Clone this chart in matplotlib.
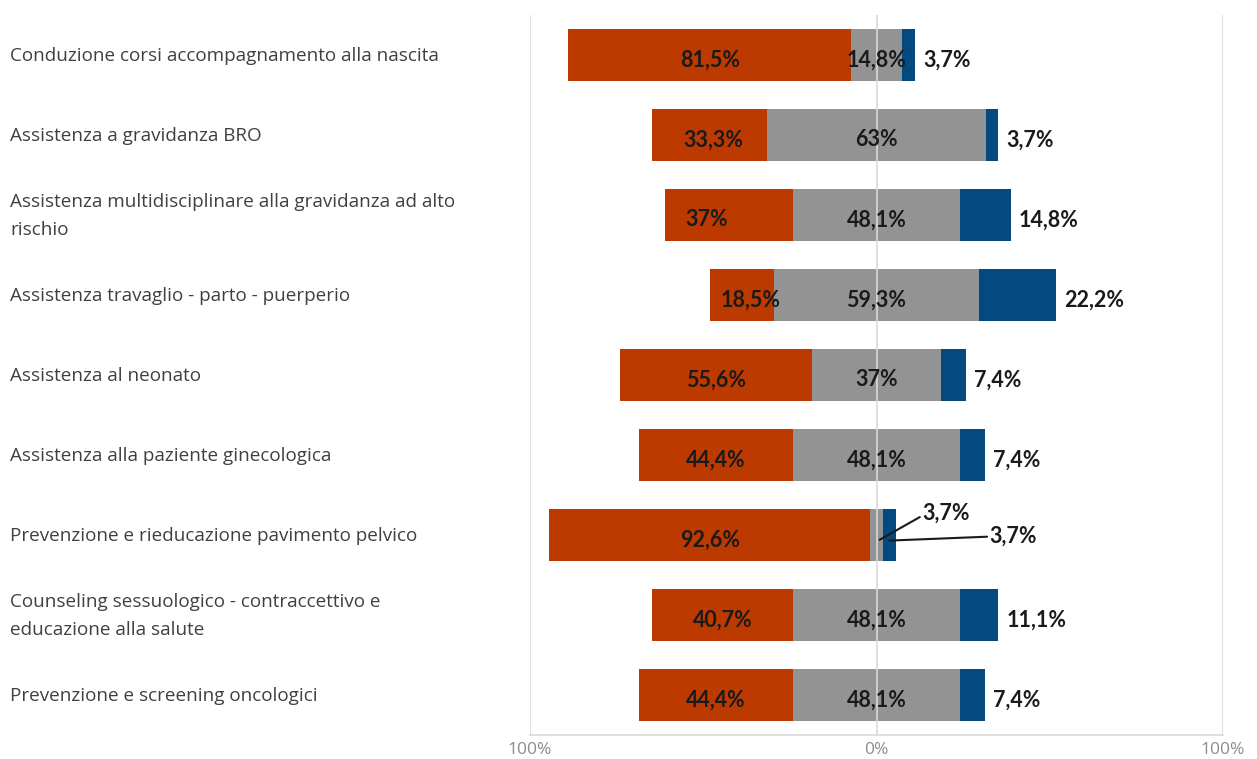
import matplotlib
matplotlib.use("Agg")
import matplotlib.pyplot as plt

# survey answers per activity: share "no" / "partly" / "yes" (percent)
categories = [
    "Conduzione corsi accompagnamento alla nascita",
    "Assistenza a gravidanza BRO",
    "Assistenza multidisciplinare alla gravidanza ad alto\nrischio",
    "Assistenza travaglio - parto - puerperio",
    "Assistenza al neonato",
    "Assistenza alla paziente ginecologica",
    "Prevenzione e rieducazione pavimento pelvico",
    "Counseling sessuologico - contraccettivo e\neducazione alla salute",
    "Prevenzione e screening oncologici",
]
no_share = [81.5, 33.3, 37.0, 18.5, 55.6, 44.4, 92.6, 40.7, 44.4]
mid_share = [14.8, 63.0, 48.1, 59.3, 37.0, 48.1, 3.7, 48.1, 48.1]
yes_share = [3.7, 3.7, 14.8, 22.2, 7.4, 7.4, 3.7, 11.1, 7.4]
tick_vals = [-100, 0, 100]
tick_labels = ["100%", "0%", "100%"]

# small nudges for the "no" labels (x units)
no_label_shift = [0, 1, -6.5, 2.5, 0, 0, 0, 0, 0]

ORANGE = "#BC3A00"
GREY = "#939393"
BLUE = "#024A80"
GRID = "#d9d9d9"


def pct(v):
    return "{:g}".format(v).replace(".", ",") + "%"


fig = plt.figure(figsize=(12.57, 7.59), dpi=100)
ax = fig.add_axes([530 / 1257, 24 / 759, 693 / 1257, 720 / 759])

rows = list(range(len(categories)))
mid_left = [-m / 2 for m in mid_share]
no_left = [ml - n for ml, n in zip(mid_left, no_share)]
yes_left = [m / 2 for m in mid_share]

h = 0.66
ax.barh(rows, no_share, left=no_left, height=h, color=ORANGE, zorder=2)
ax.barh(rows, mid_share, left=mid_left, height=h, color=GREY, zorder=2)
ax.barh(rows, yes_share, left=yes_left, height=h, color=BLUE, zorder=2)

for x in tick_vals:
    ax.axvline(x, color=GRID, lw=1.2, zorder=3 if x == 0 else 1)

lab = dict(fontfamily="Lato", fontweight="bold", fontsize=15.5, color="#1a1a1a", zorder=5)
dy = 0.06
for i in rows:
    ax.text(no_left[i] + no_share[i] / 2 + no_label_shift[i], i + dy, pct(no_share[i]),
            ha="center", va="center", **lab)
    if mid_share[i] > 10:
        ax.text(0, i + dy, pct(mid_share[i]), ha="center", va="center", **lab)
        ax.text(yes_left[i] + yes_share[i] + 2.3, i + dy, pct(yes_share[i]), ha="left", va="center", **lab)
    else:
        # thin segments: labels pulled out with leader lines
        ax.annotate(pct(mid_share[i]), xy=(0.9, i + 0.06), xytext=(13.3, i - 0.27),
                    ha="left", va="center",
                    arrowprops=dict(arrowstyle="-", color="#1a1a1a", lw=1.5,
                                    shrinkA=0, shrinkB=0, relpos=(0, 0.4)),
                    **lab)
        ax.annotate(pct(yes_share[i]), xy=(yes_left[i] + yes_share[i] / 2, i + 0.07),
                    xytext=(32.7, i + 0.02), ha="left", va="center",
                    arrowprops=dict(arrowstyle="-", color="#1a1a1a", lw=1.5,
                                    shrinkA=0, shrinkB=0, relpos=(0, 0.5)),
                    **lab)

ax.set_xlim(-100, 100)
ax.set_ylim(len(categories) - 0.5, -0.5)
ax.set_xticks(tick_vals)
ax.set_xticklabels(tick_labels, fontfamily="Open Sans", fontsize=12.5, color="#8c8c8c")
ax.tick_params(axis="x", length=0, pad=5)
ax.set_yticks([])
for s in ["top", "left", "right"]:
    ax.spines[s].set_visible(False)
ax.spines["bottom"].set_color(GRID)
ax.spines["bottom"].set_linewidth(1.2)

for i, name in enumerate(categories):
    fig.text(10 / 1257, 1 - (56 + 80 * i) / 759, name, ha="left", va="center",
             fontfamily="Open Sans", fontsize=13.6, color="#404040", linespacing=1.65)

fig.savefig("out.png", dpi=100)
